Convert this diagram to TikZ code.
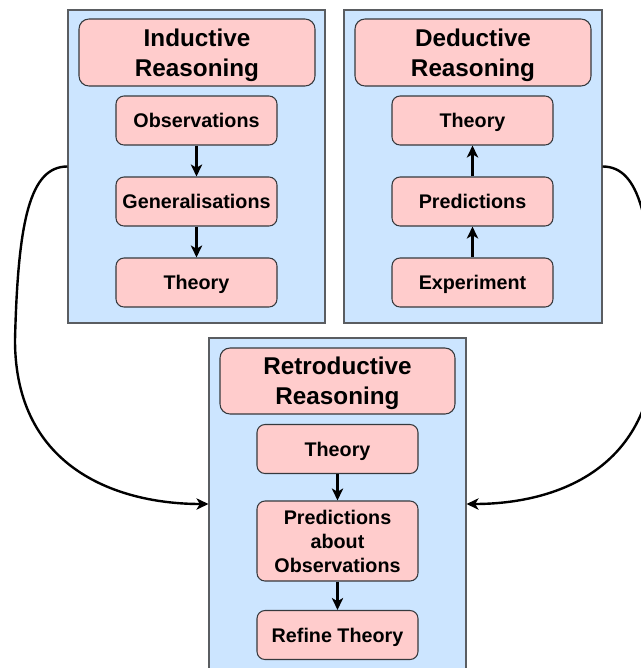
\documentclass[tikz,border=0pt]{standalone}
\usepackage{fontspec}
\setmainfont{Liberation Sans}
\usetikzlibrary{arrows.meta}
\definecolor{panelfill}{HTML}{CCE5FF}
\definecolor{panelline}{HTML}{5A5D61}
\definecolor{boxfill}{HTML}{FFCCCC}
\definecolor{boxline}{HTML}{36393D}
\begin{document}
\begin{tikzpicture}[x=0.75pt,y=-0.75pt,
  panel/.style={draw=panelline, fill=panelfill, line width=0.8pt, inner sep=0pt},
  titlebox/.style={draw=boxline, fill=boxfill, line width=0.8pt, rounded corners=7.5pt,
    minimum width=177pt, minimum height=50.25pt, align=center, inner sep=0pt,
    text depth=0pt, font=\fontsize{18.2pt}{22.5pt}\selectfont\bfseries},
  boxbase/.style={draw=boxline, fill=boxfill, line width=0.8pt, rounded corners=6pt,
    minimum width=120.75pt, minimum height=36.75pt, align=center, inner sep=0pt,
    text depth=0pt, font=\fontsize{14.8pt}{18pt}\selectfont\bfseries},
  stepbox/.style={boxbase, text height=10.6pt},
  flow/.style={line width=1.8pt, -{Stealth[length=9pt,width=8.5pt,inset=2.5pt]}},
  link/.style={line width=1.8pt, -{Stealth[length=9pt,width=8.5pt,inset=2.5pt]}}]
\useasboundingbox (0,0) rectangle (641,668);

% inductive panel
\node[panel, minimum width=192.75pt, minimum height=234.75pt] (PL) at (196.5,166.5) {};
\node[titlebox] (TL) at (197,52.5) {Inductive\\Reasoning};
\node[stepbox] (L1) at (196.5,120.5) {Observations};
\node[stepbox] (L2) at (196.5,201.5) {Generalisations};
\node[stepbox] (L3) at (196.5,282.5) {Theory};
\draw[flow] (L1) -- (L2);
\draw[flow] (L2) -- (L3);

% deductive panel
\node[panel, minimum width=193.5pt, minimum height=234.75pt] (PR) at (473,166.5) {};
\node[titlebox] (TR) at (473,52.5) {Deductive\\Reasoning};
\node[stepbox] (R1) at (472.5,120.5) {Theory};
\node[stepbox] (R2) at (472.5,201.5) {Predictions};
\node[stepbox] (R3) at (472.5,282.5) {Experiment};
\draw[flow] (R3) -- (R2);
\draw[flow] (R2) -- (R1);

% retroductive panel
\node[panel, minimum width=192.75pt, minimum height=249pt] (PB) at (337.5,504) {};
\node[titlebox, minimum width=176.25pt, minimum height=49.5pt] (TB) at (337.5,381) {Retroductive\\Reasoning};
\node[stepbox] (B1) at (337.5,449) {Theory};
\node[boxbase, minimum height=60pt] (B2) at (337.5,541) {Predictions\\about\\Observations};
\node[stepbox] (B3) at (337.5,635) {Refine Theory};
\draw[flow] (B1) -- (B2);
\draw[flow] (B2) -- (B3);

% links between panels
\draw[link] (PL.west) .. controls (30,166.5) and (18,220) .. (15,340)
  .. controls (15,470) and (120,504) .. (PB.west);
\draw[link] (PR.east) .. controls (640,166.5) and (652,220) .. (655,340)
  .. controls (655,470) and (555,504) .. (PB.east);
\end{tikzpicture}
\end{document}
